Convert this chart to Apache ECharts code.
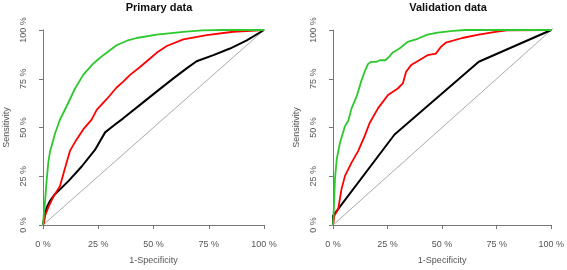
<!DOCTYPE html>
<html>
<head>
<meta charset="utf-8">
<style>
  html, body { margin: 0; padding: 0; background: #fff; }
  #chart { width: 567px; height: 270px; }
</style>
<script src="https://cdn.jsdelivr.net/npm/echarts@6/dist/echarts.min.js"></script>
</head>
<body>
<div id="chart"></div>
<script>
// panel titles and axis text
const panelTitles = ['Primary data', 'Validation data']
const tickValues = [0, 0.25, 0.5, 0.75, 1]
const tickLabels = ['0 %', '25 %', '50 %', '75 %', '100 %']

// ROC curves, [1-specificity, sensitivity]
const primaryGreen = [
    [0, 0], [0.004, 0.06], [0.009, 0.116], [0.017, 0.235], [0.024, 0.32], [0.032, 0.379],
    [0.039, 0.405], [0.054, 0.468], [0.077, 0.541], [0.107, 0.609], [0.145, 0.7], [0.182, 0.77],
    [0.225, 0.825], [0.25, 0.85], [0.273, 0.871], [0.333, 0.922], [0.38, 0.945], [0.424, 0.959],
    [0.514, 0.976], [0.635, 0.99], [0.72, 0.998], [0.816, 1], [1, 1]
]
const primaryRed = [
    [0, 0], [0.006, 0.02], [0.009, 0.047], [0.024, 0.09], [0.047, 0.145], [0.077, 0.2],
    [0.1, 0.294], [0.122, 0.38], [0.15, 0.435], [0.182, 0.49], [0.22, 0.54], [0.243, 0.59],
    [0.288, 0.645], [0.333, 0.705], [0.363, 0.735], [0.394, 0.77], [0.439, 0.81], [0.475, 0.845],
    [0.514, 0.883], [0.56, 0.918], [0.635, 0.952], [0.741, 0.974], [0.861, 0.991], [1, 1]
]
const primaryBlack = [
    [0, 0], [0.006, 0.04], [0.017, 0.09], [0.032, 0.124], [0.054, 0.158], [0.115, 0.225],
    [0.175, 0.3], [0.235, 0.385], [0.281, 0.475], [0.326, 0.515], [0.363, 0.547], [0.439, 0.616],
    [0.514, 0.684], [0.59, 0.752], [0.65, 0.803], [0.695, 0.84], [0.771, 0.871], [0.846, 0.905],
    [0.922, 0.947], [1, 1]
]
const validationGreen = [
    [0, 0], [0.003, 0.06], [0.005, 0.116], [0.009, 0.235], [0.017, 0.337], [0.032, 0.422],
    [0.045, 0.47], [0.055, 0.507], [0.07, 0.535], [0.085, 0.598], [0.108, 0.658], [0.131, 0.743],
    [0.145, 0.786], [0.16, 0.825], [0.175, 0.837], [0.2, 0.837], [0.215, 0.845], [0.24, 0.845],
    [0.259, 0.865], [0.274, 0.885], [0.305, 0.905], [0.312, 0.913], [0.342, 0.939], [0.388, 0.955],
    [0.433, 0.976], [0.479, 0.986], [0.55, 0.995], [0.608, 1], [1, 1]
]
const validationRed = [
    [0, 0], [0.003, 0.02], [0.006, 0.047], [0.024, 0.082], [0.039, 0.184], [0.055, 0.252],
    [0.085, 0.32], [0.115, 0.379], [0.145, 0.456], [0.168, 0.523], [0.206, 0.598], [0.252, 0.667],
    [0.297, 0.7], [0.32, 0.726], [0.335, 0.786], [0.358, 0.82], [0.395, 0.845], [0.433, 0.871],
    [0.471, 0.879], [0.494, 0.913], [0.517, 0.935], [0.592, 0.959], [0.668, 0.976], [0.744, 0.99],
    [0.797, 0.998], [0.805, 1], [1, 1]
]
const validationBlack = [[0, 0], [0, 0.047], [0.282, 0.464], [0.668, 0.837], [1, 1]]
const diagonal = [[-0.04, -0.04], [1.04, 1.04]]

const font = "'Liberation Sans', Arial, sans-serif"
const fmt = v => tickLabels[tickValues.indexOf(v)] || ''

const chart = echarts.init(document.getElementById('chart'), null, { renderer: 'canvas' })

function makeAxis(idx, isX) {
    return {
        type: 'value',
        gridIndex: idx,
        min: 0,
        max: 1,
        interval: 0.25,
        offset: 8,
        name: isX ? '1-Specificity' : 'Sensitivity',
        nameLocation: 'middle',
        nameGap: isX ? 23 : 24,
        nameTextStyle: { fontFamily: font, fontSize: 9, color: '#555' },
        axisLine: { show: true, lineStyle: { color: '#777', width: 1 } },
        axisTick: { show: true, inside: false, length: 4, lineStyle: { color: '#777' } },
        axisLabel: {
            fontFamily: font,
            fontSize: 9,
            color: '#555',
            margin: 7,
            rotate: isX ? 0 : 90,
            formatter: fmt
        },
        splitLine: { show: false }
    }
}

function line(idx, data, color, width) {
    return {
        type: 'line',
        xAxisIndex: idx,
        yAxisIndex: idx,
        data: data,
        showSymbol: false,
        symbol: 'none',
        clip: false,
        silent: true,
        animation: false,
        lineStyle: { color: color, width: width }
    }
}

const option = {
    backgroundColor: '#fff',
    animation: false,
    title: [
        { text: panelTitles[0], left: 154, top: -3, textAlign: 'center',
          textStyle: { fontFamily: font, fontSize: 11, fontWeight: 'bold', color: '#111' } },
        { text: panelTitles[1], left: 443, top: -3, textAlign: 'center',
          textStyle: { fontFamily: font, fontSize: 11, fontWeight: 'bold', color: '#111' } }
    ],
    grid: [
        { left: 43, top: 30, width: 221, height: 196, containLabel: false },
        { left: 333, top: 30, width: 220, height: 196, containLabel: false }
    ],
    xAxis: [makeAxis(0, true), makeAxis(1, true)],
    yAxis: [makeAxis(0, false), makeAxis(1, false)],
    series: [
        line(0, diagonal, '#aaaaaa', 1),
        line(0, primaryBlack, '#000', 2),
        line(0, primaryRed, '#ff0000', 1.8),
        line(0, primaryGreen, '#2dc82d', 1.8),
        line(1, diagonal, '#aaaaaa', 1),
        line(1, validationBlack, '#000', 2),
        line(1, validationRed, '#ff0000', 1.8),
        line(1, validationGreen, '#2dc82d', 1.8)
    ]
}
chart.setOption(option)
</script>
</body>
</html>
